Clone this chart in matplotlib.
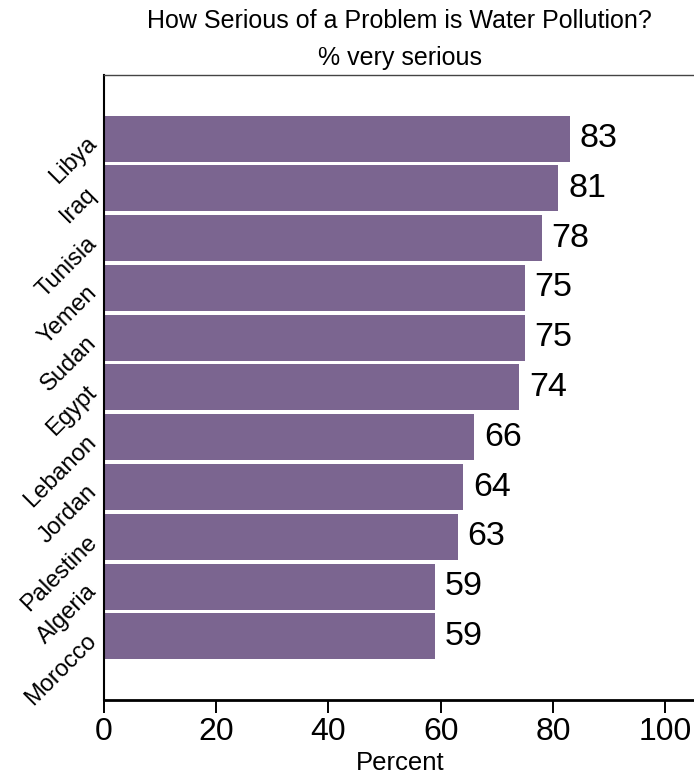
import numpy as np
import matplotlib.pyplot as plt

plt.rcParams['font.family'] = ['Liberation Sans', 'DejaVu Sans']

# survey results, % saying water pollution is a very serious problem
countries = ['Libya', 'Iraq', 'Tunisia', 'Yemen', 'Sudan', 'Egypt',
             'Lebanon', 'Jordan', 'Palestine', 'Algeria', 'Morocco']
values = [83, 81, 78, 75, 75, 74, 66, 64, 63, 59, 59]
xticks = [0, 20, 40, 60, 80, 100]

bar_color = '#7b6590'

fig = plt.figure(figsize=(6.94, 7.78), dpi=100)
# axes run past the right edge of the figure
ax = fig.add_axes([0.1499, 0.1003, 0.8893, 0.8033])

# bottom-most bar at y=0, top at y=10
ypos = np.arange(len(countries))[::-1]
ax.barh(ypos, values, height=0.925, color=bar_color)

for y, v in zip(ypos, values):
    ax.annotate(str(v), xy=(v, y), xytext=(7, 0), textcoords='offset points',
                ha='left', va='center', fontsize=24.5)

ax.set_xlim(0, 110)
ax.set_ylim(-1.28, 11.28)

ax.set_xticks(xticks)
ax.set_xticklabels([str(t) for t in xticks], fontsize=23)
ax.tick_params(axis='x', length=9, width=1.4, pad=3)

ax.set_yticks(ypos)
ax.set_yticklabels(countries, fontsize=17, rotation=45,
                   ha='right', va='center_baseline', rotation_mode='anchor')
ax.tick_params(axis='y', length=0, pad=9)

ax.spines['left'].set_linewidth(1.5)
ax.spines['bottom'].set_linewidth(2)
ax.spines['top'].set_linewidth(1)
ax.spines['top'].set_color('#444444')
ax.spines['right'].set_visible(False)

# titles and x label centred over the 0-100 range
xc = 0.576
fig.text(xc, 0.964, 'How Serious of a Problem is Water Pollution?',
         ha='center', va='baseline', fontsize=18)
fig.text(xc, 0.9165, '% very serious', ha='center', va='baseline', fontsize=18)
fig.text(xc, 0.0105, 'Percent', ha='center', va='baseline', fontsize=18.5)

fig.savefig('out.png', dpi=100)
